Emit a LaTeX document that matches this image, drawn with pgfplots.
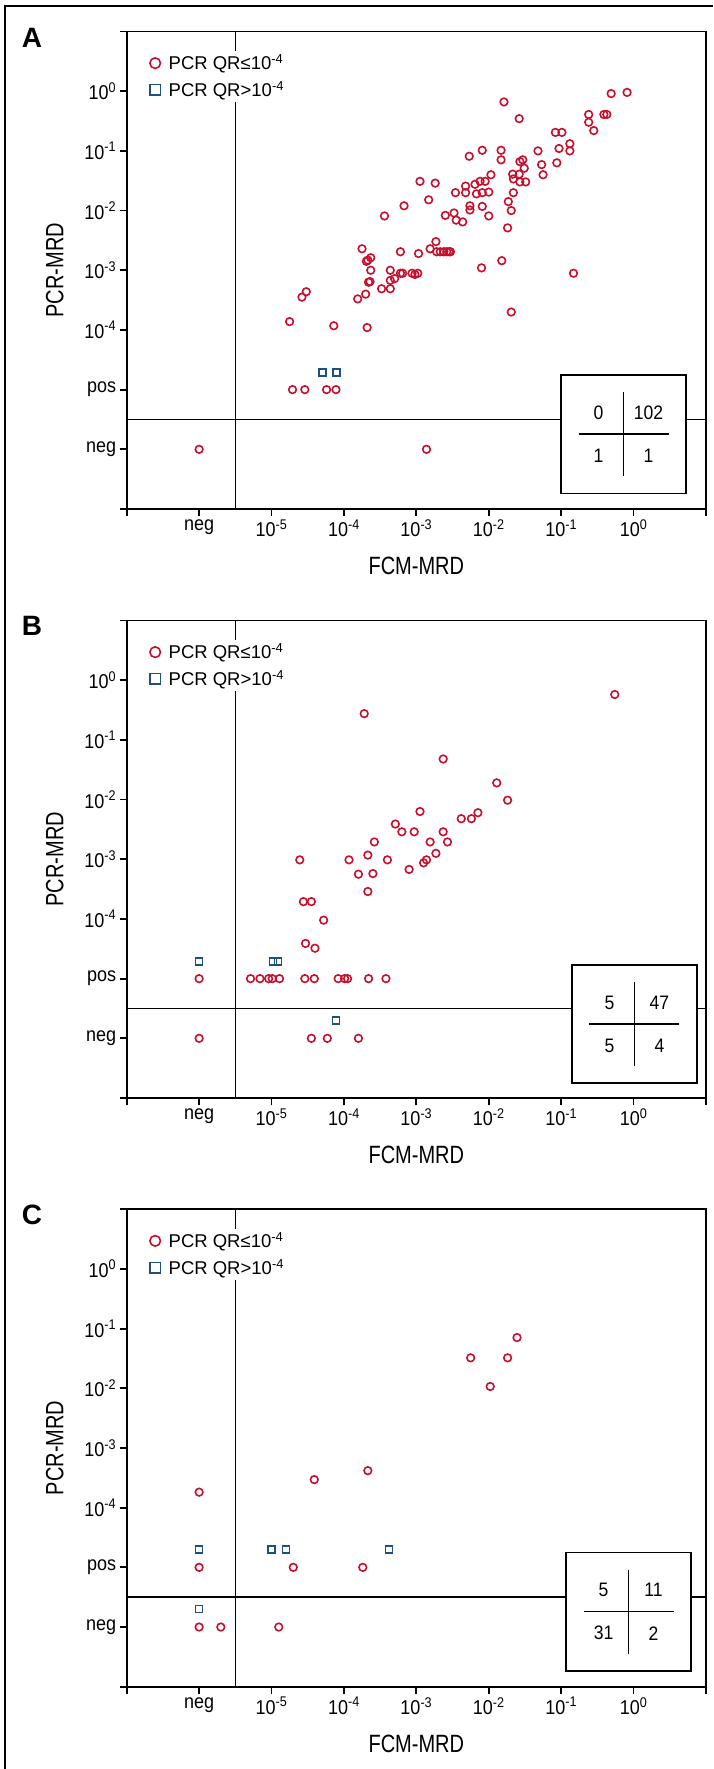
\documentclass[border=0pt]{standalone}
\usepackage{fontspec}
\setmainfont{Liberation Sans}
\newfontfamily\condf{Liberation Sans}[FakeStretch=0.9]
\newfontfamily\condl{Liberation Sans}[FakeStretch=0.8]
\usepackage{pgfplots}
\usepackage{pgfplotstable}
\pgfplotsset{compat=1.18}
\definecolor{mred}{RGB}{200,16,46}
\definecolor{mblue}{RGB}{28,80,130}

% values as log10 exponents; -6 = "neg", -5 = "pos"
\pgfplotstableread{
x y
-0.09 -0.02
-0.31 -0.04
-1.79 -0.18
-1.58 -0.46
-0.62 -0.39
-0.41 -0.39
-0.37 -0.39
-0.62 -0.52
-0.55 -0.66
-1.08 -0.69
-0.99 -0.69
-0.88 -0.88
-1.03 -0.96
-0.88 -1.00
-1.06 -1.20
-1.32 -1.00
-1.27 -1.23
-1.25 -1.40
-1.83 -0.99
-1.83 -1.15
-2.09 -0.99
-2.27 -1.09
-1.57 -1.18
-1.53 -1.15
-1.51 -1.29
-1.67 -1.39
-1.58 -1.39
-1.66 -1.47
-1.57 -1.52
-1.49 -1.52
-1.97 -1.40
-2.19 -1.56
-2.12 -1.51
-2.05 -1.51
-2.32 -1.59
-2.32 -1.70
-2.46 -1.70
-2.17 -1.72
-2.09 -1.70
-2.00 -1.69
-1.66 -1.70
-1.73 -1.85
-1.69 -2.00
-1.74 -2.29
-2.95 -1.51
-2.74 -1.54
-2.83 -1.82
-3.17 -1.92
-2.26 -1.92
-2.26 -1.99
-2.09 -1.93
-2.60 -2.08
-2.48 -2.04
-2.45 -2.16
-2.36 -2.19
-2.00 -2.09
-3.44 -2.09
-2.73 -2.52
-2.81 -2.64
-2.72 -2.69
-2.67 -2.69
-2.62 -2.69
-2.58 -2.69
-2.55 -2.69
-2.53 -2.69
-2.97 -2.72
-3.22 -2.69
-3.75 -2.64
-3.63 -2.79
-3.69 -2.85
-3.67 -2.83
-3.63 -3.00
-3.66 -3.20
-3.64 -3.19
-3.70 -3.40
-3.81 -3.48
-3.48 -3.31
-3.36 -3.31
-3.36 -3.00
-3.36 -3.17
-3.30 -3.14
-3.22 -3.05
-3.19 -3.05
-3.06 -3.05
-3.02 -3.07
-2.98 -3.05
-2.10 -2.96
-1.82 -2.84
-4.52 -3.36
-4.58 -3.45
-4.75 -3.86
-4.14 -3.93
-3.68 -3.96
-0.83 -3.05
-1.69 -3.70
-4.71 -5
-4.54 -5
-4.24 -5
-4.11 -5
-6 -6
-2.86 -6
}\Acirc
\pgfplotstableread{
x y
-4.30 -4.71
-4.10 -4.71
}\Asq

\pgfplotstableread{
x y
-0.26 -0.24
-3.72 -0.56
-2.63 -1.32
-1.89 -1.72
-1.74 -2.01
-2.95 -2.20
-2.38 -2.32
-2.24 -2.32
-2.15 -2.22
-3.29 -2.41
-3.20 -2.54
-3.03 -2.54
-2.63 -2.54
-2.81 -2.71
-2.57 -2.71
-3.58 -2.71
-3.67 -2.93
-3.40 -3.01
-3.93 -3.01
-4.61 -3.01
-2.73 -2.90
-2.86 -3.01
-2.90 -3.06
-3.10 -3.17
-3.80 -3.25
-3.60 -3.24
-3.67 -3.54
-4.56 -3.71
-4.45 -3.71
-4.28 -4.02
-4.53 -4.41
-4.40 -4.49
-6 -5
-5.29 -5
-5.16 -5
-5.04 -5
-4.99 -5
-4.89 -5
-4.54 -5
-4.41 -5
-4.08 -5
-3.99 -5
-3.95 -5
-3.66 -5
-3.42 -5
-6 -6
-4.45 -6
-4.23 -6
-3.80 -6
}\Bcirc
\pgfplotstableread{
x y
-6 -4.71
-4.98 -4.71
-4.91 -4.71
-4.11 -5.70
}\Bsq

\pgfplotstableread{
x y
-1.61 -1.15
-2.25 -1.49
-1.74 -1.49
-1.98 -1.97
-3.67 -3.38
-4.41 -3.53
-6 -3.74
-6 -5
-4.70 -5
-3.74 -5
-6 -6
-5.70 -6
-4.90 -6
}\Ccirc
\pgfplotstableread{
x y
-6 -4.70
-5.00 -4.70
-4.80 -4.70
-3.38 -4.70
-6 -5.70
}\Csq

\pgfplotsset{
  mrd/.style={
    scale only axis, width=579.3pt, height=477.5pt,
    xmin=-7, xmax=1, ymin=-7, ymax=1,
    axis line style={line width=1.8pt},
    tick pos=left, tick align=outside,
    major tick length=7pt,
    every tick/.append style={line width=1.8pt, black},
    xtick={-7,-6,...,1}, ytick={-7,-6,...,1},
    xticklabels={{},neg,10\textsuperscript{-5},10\textsuperscript{-4},10\textsuperscript{-3},10\textsuperscript{-2},10\textsuperscript{-1},10\textsuperscript{0},{}},
    yticklabels={{},neg,pos,10\textsuperscript{-4},10\textsuperscript{-3},10\textsuperscript{-2},10\textsuperscript{-1},10\textsuperscript{0},{}},
    ticklabel style={font=\condf\fontsize{20}{20}\selectfont},
    xlabel={FCM-MRD}, ylabel={PCR-MRD},
    every axis x label/.style={at={(axis description cs:0.5,-0.12)}, anchor=center},
    every axis y label/.style={at={(axis description cs:-0.1243,0.5)}, rotate=90, anchor=center},
    label style={font=\condl\fontsize{25}{25}\selectfont},
    legend style={at={(axis description cs:0.035,0.96)}, anchor=north west,
      draw=none, fill=white, inner sep=1pt, row sep=4pt,
      font=\fontsize{18.5}{20}\selectfont, cells={anchor=west},
      nodes={inner sep=3pt}},
  },
  circ/.style={only marks, mark=o, mark size=3.8pt, color=mred, mark options={line width=1.6pt},
    legend image code/.code={\path[draw=none,fill=none] (-7pt,-6pt) rectangle (10.5pt,6pt);
      \draw[mred, line width=1.6pt] (0pt,0pt) circle (5.3pt);}},
  sq/.style={only marks, mark=square, mark size=3.5pt, color=mblue, mark options={line width=1.6pt},
    legend image code/.code={\path[draw=none,fill=none] (-7pt,-6pt) rectangle (10.5pt,6pt);
      \draw[mblue, line width=1.6pt] (-5.2pt,-5.2pt) rectangle (5.2pt,5.2pt);}},
}

\newcommand{\guides}{%
  \draw[line width=1.4pt] (axis cs:-5.5,-7) -- (axis cs:-5.5,1);
  \draw[line width=1.4pt] (axis cs:-7,-5.5) -- (axis cs:1,-5.5);
}
\newcommand{\inset}[6]{%
  \node[draw, line width=1.8pt, fill=white, minimum width=125pt, minimum height=118.5pt, inner sep=0pt] at (axis cs:#1,#2) {};
  \draw[line width=1.5pt] ([yshift=42pt]axis cs:#1,#2) -- ([yshift=-42pt]axis cs:#1,#2);
  \draw[line width=1.5pt] ([xshift=-45pt]axis cs:#1,#2) -- ([xshift=45pt]axis cs:#1,#2);
  \node[font=\condf\fontsize{19.5}{20}\selectfont] at ([xshift=-25pt,yshift=21.5pt]axis cs:#1,#2) {#3};
  \node[font=\condf\fontsize{19.5}{20}\selectfont] at ([xshift=25pt,yshift=21.5pt]axis cs:#1,#2) {#4};
  \node[font=\condf\fontsize{19.5}{20}\selectfont] at ([xshift=-25pt,yshift=-21.5pt]axis cs:#1,#2) {#5};
  \node[font=\condf\fontsize{19.5}{20}\selectfont] at ([xshift=25pt,yshift=-21.5pt]axis cs:#1,#2) {#6};
}

\begin{document}
\begin{tikzpicture}[x=1pt,y=1pt]
\path[use as bounding box] (0,0) rectangle (713,-1769);
\draw[line width=2pt] (5,-1769) -- (5,-6) -- (713,-6);

\node[font=\bfseries\fontsize{28}{28}\selectfont] at (32,-38) {A};
\begin{axis}[mrd, at={(126.7pt,-509pt)}, anchor=south west]
\guides
\inset{-0.138}{-5.747}{0}{102}{1}{1}
\addplot[circ] table {\Acirc};
\addlegendentry{PCR QR≤10\textsuperscript{-4}}
\addplot[sq] table {\Asq};
\addlegendentry{PCR QR>10\textsuperscript{-4}}
\end{axis}

\node[font=\bfseries\fontsize{28}{28}\selectfont] at (32,-626) {B};
\begin{axis}[mrd, at={(126.7pt,-1098pt)}, anchor=south west]
\guides
\inset{0.012}{-5.759}{5}{47}{5}{4}
\addplot[circ] table {\Bcirc};
\addlegendentry{PCR QR≤10\textsuperscript{-4}}
\addplot[sq] table {\Bsq};
\addlegendentry{PCR QR>10\textsuperscript{-4}}
\end{axis}

\node[font=\bfseries\fontsize{28}{28}\selectfont] at (32,-1215) {C};
\begin{axis}[mrd, at={(126.7pt,-1686.7pt)}, anchor=south west]
\guides
\inset{-0.07}{-5.743}{5}{11}{31}{2}
\addplot[circ] table {\Ccirc};
\addlegendentry{PCR QR≤10\textsuperscript{-4}}
\addplot[sq] table {\Csq};
\addlegendentry{PCR QR>10\textsuperscript{-4}}
\end{axis}
\end{tikzpicture}
\end{document}
